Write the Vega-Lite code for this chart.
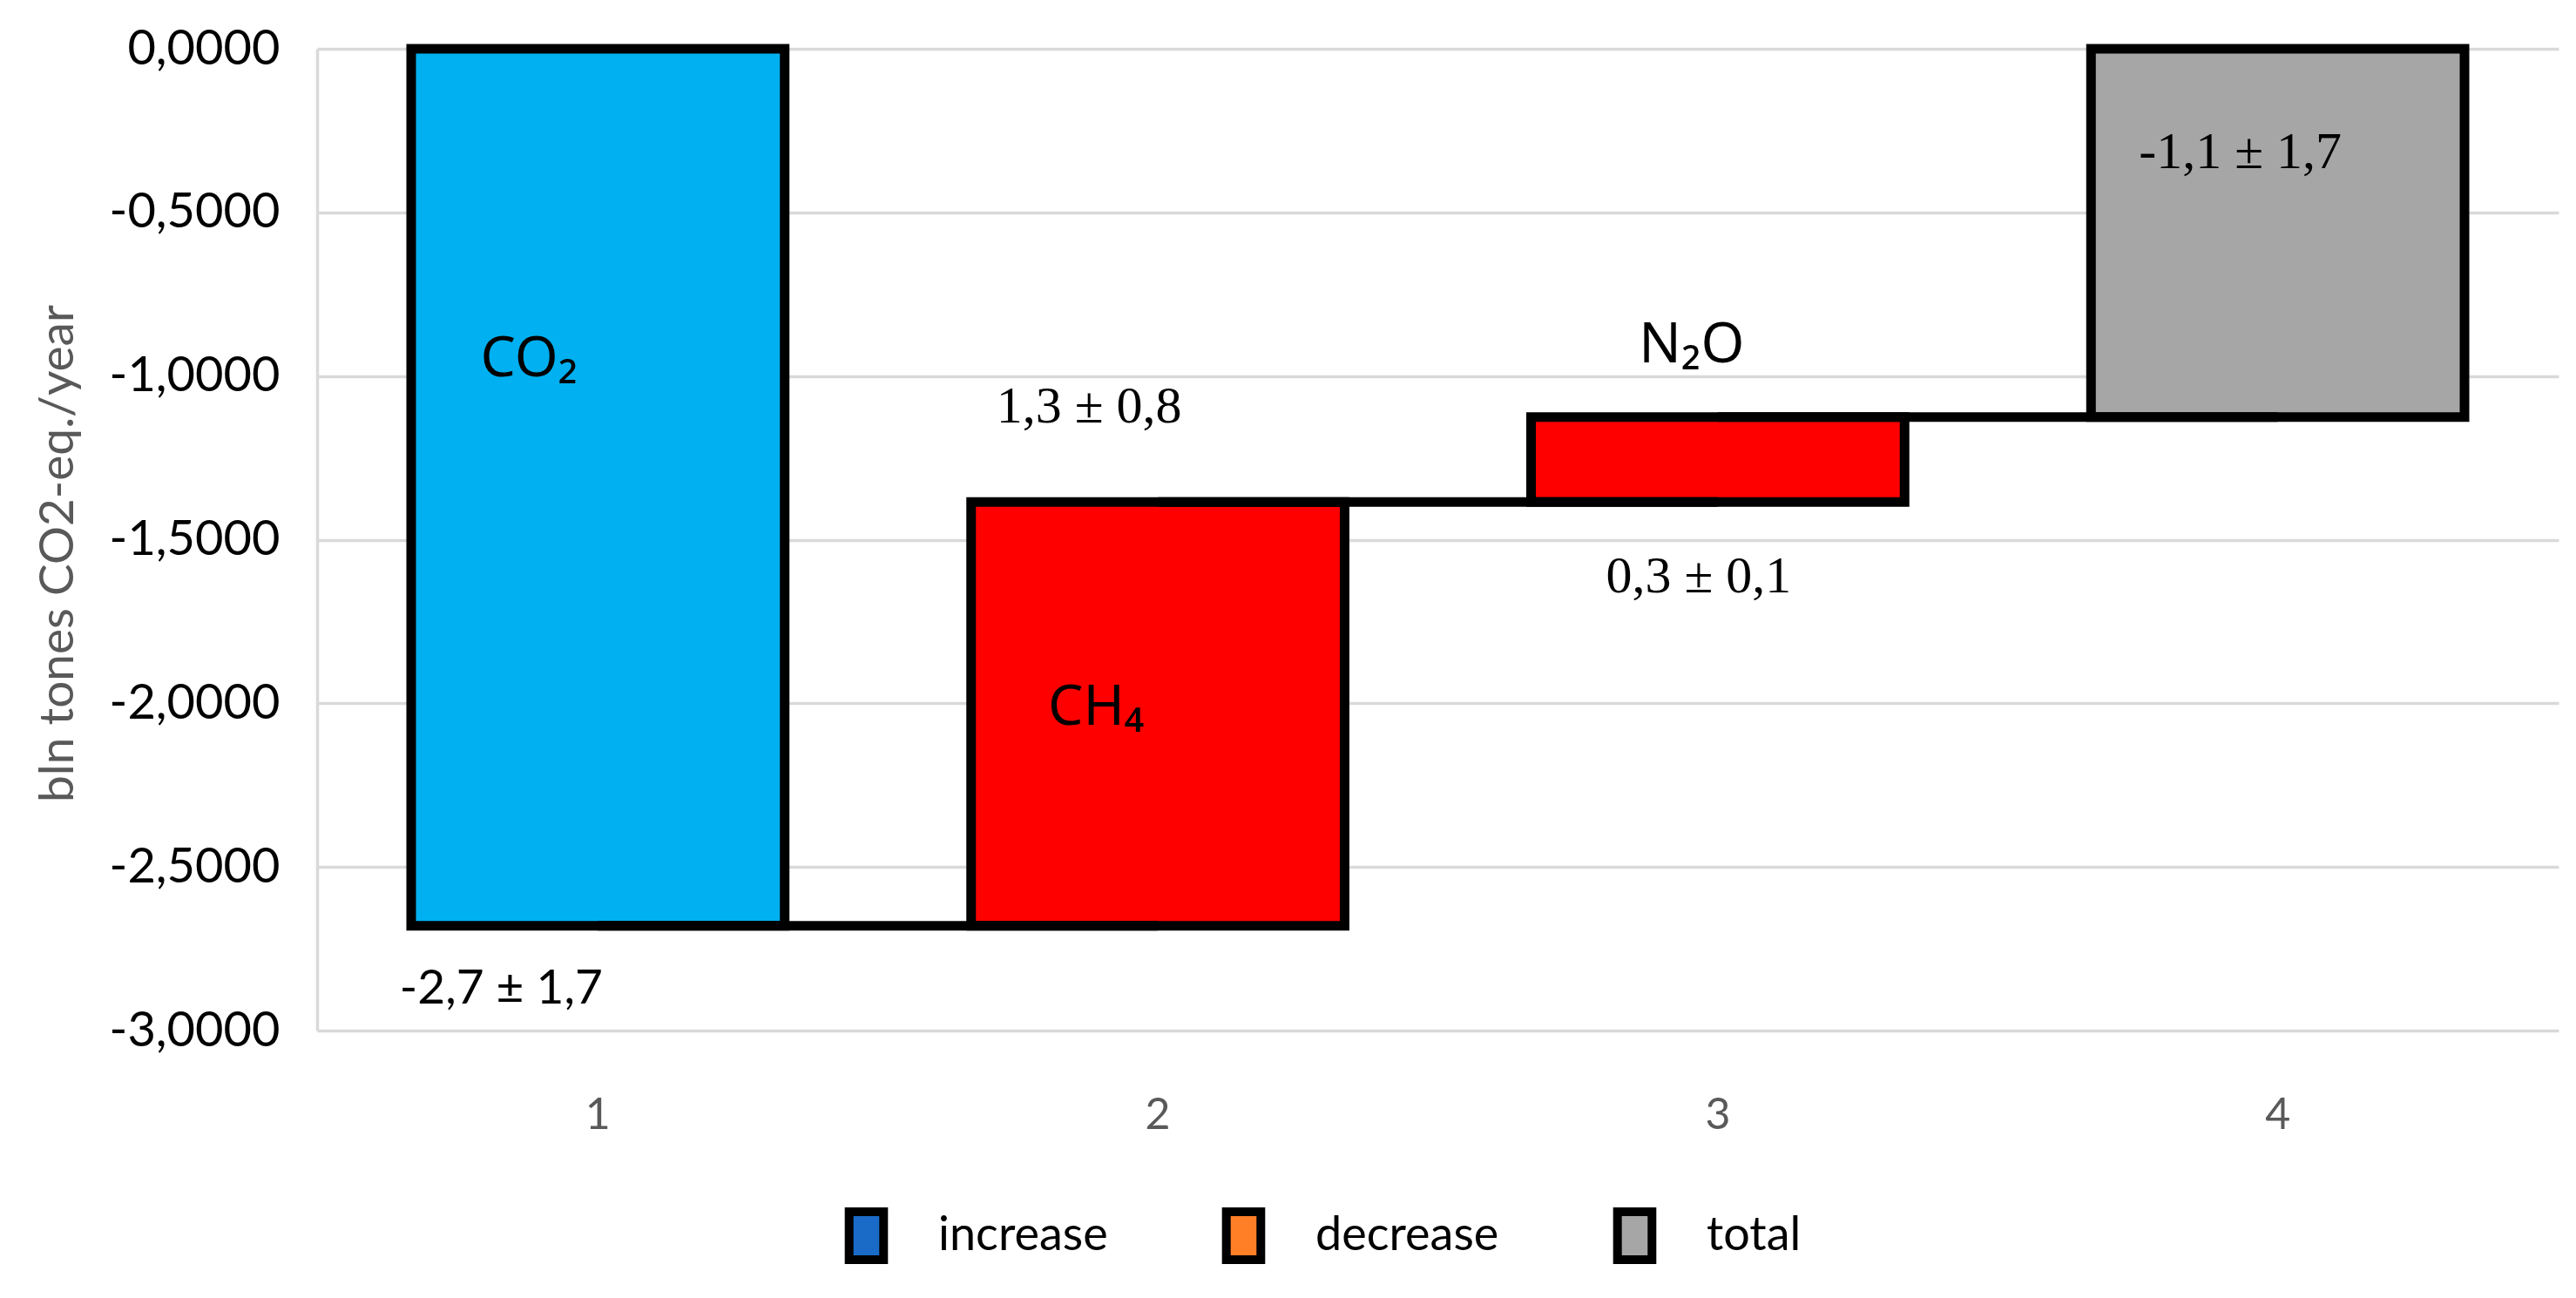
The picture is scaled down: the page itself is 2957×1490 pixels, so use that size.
{
  "$schema": "https://vega.github.io/schema/vega-lite/v6.json",
  "autosize": {"type": "none"},
  "padding": {"left": 364, "top": 56, "right": 20, "bottom": 307},
  "width": 2573,
  "height": 1127,
  "background": "white",
  "datasets": {
    "bars": [
      {"cat": "1", "gas": "CO2", "type": "decrease", "start": 0, "end": -2.68},
      {"cat": "2", "gas": "CH4", "type": "increase", "start": -2.68, "end": -1.385},
      {"cat": "3", "gas": "N2O", "type": "increase", "start": -1.385, "end": -1.125},
      {"cat": "4", "gas": "total", "type": "total", "start": 0, "end": -1.125}
    ],
    "links": [
      {"from": "1", "to": "2", "level": -2.68},
      {"from": "2", "to": "3", "level": -1.385},
      {"from": "3", "to": "4", "level": -1.125}
    ],
    "labels": [
      {"cat": "1", "text": "CO₂", "pos": -0.949},
      {"cat": "1", "text": "-2,7 ± 1,7", "pos": -2.873},
      {"cat": "2", "text": "1,3 ± 0,8", "pos": -1.095},
      {"cat": "2", "text": "CH₄", "pos": -2.014},
      {"cat": "3", "text": "N₂O", "pos": -0.909},
      {"cat": "3", "text": "0,3 ± 0,1", "pos": -1.612},
      {"cat": "4", "text": "-1,1 ± 1,7", "pos": -0.316}
    ]
  },
  "layer": [
    {
      "data": {"name": "bars"},
      "mark": {"type": "bar", "stroke": "black", "strokeWidth": 11},
      "encoding": {
        "x": {
          "field": "cat", "type": "ordinal", "title": null,
          "scale": {"domain": ["1", "2", "3", "4"], "paddingInner": 0.333, "paddingOuter": 0.168},
          "axis": {"labelAngle": 0, "labelFont": "Lato", "labelFontSize": 50, "labelColor": "#595959", "labelPadding": 72, "ticks": false, "domain": false, "grid": false}
        },
        "y": {
          "field": "start", "type": "quantitative", "title": "bln tones CO2-eq./year",
          "scale": {"domain": [-3, 0], "nice": false, "zero": false},
          "axis": {
            "values": [-3, -2.5, -2, -1.5, -1, -0.5, 0],
            "labelExpr": "replace(replace(format(datum.value, '.4f'), '.', ','), '\u2212', '-')",
            "labelFont": "Lato", "labelFontSize": 56, "labelColor": "#000000", "labelPadding": 43, "labelOverlap": false, "labelLimit": 500,
            "ticks": false, "domain": true, "domainColor": "#D9D9D9", "domainWidth": 3.5,
            "grid": true, "gridColor": "#D9D9D9", "gridWidth": 3.5,
            "titleFont": "Lato", "titleFontSize": 55, "titleFontWeight": "normal", "titleColor": "#595959",
            "titleX": -298, "titleY": 579, "titleAngle": -90, "titleBaseline": "middle", "titleAlign": "center", "titleLimit": 1200
          }
        },
        "y2": {"field": "end"},
        "color": {"field": "gas", "type": "nominal", "scale": {"domain": ["CO2", "CH4", "N2O", "total"], "range": ["#00B0F0", "#FF0000", "#FF0000", "#A6A6A6"]}, "legend": null}
      }
    },
    {
      "data": {"name": "links"},
      "mark": {"type": "rule", "color": "black", "strokeWidth": 11},
      "encoding": {
        "x": {"field": "from", "type": "ordinal", "title": null},
        "x2": {"field": "to"},
        "y": {"field": "level", "type": "quantitative", "title": "bln tones CO2-eq./year"}
      }
    },
    {
      "data": {"name": "bars"},
      "mark": {"type": "text", "text": ""},
      "encoding": {
        "x": {"field": "cat", "type": "ordinal", "title": null},
        "y": {"field": "end", "type": "quantitative", "title": "bln tones CO2-eq./year"},
        "fill": {
          "field": "type", "type": "nominal",
          "scale": {"domain": ["increase", "decrease", "total"], "range": ["#1A6BC8", "#FF7F27", "#A6A6A6"]},
          "legend": {
            "title": null, "orient": "none", "legendX": 598, "legendY": 1330, "direction": "horizontal",
            "symbolType": "M-0.72,-1H0.72V1H-0.72Z", "symbolSize": 3025, "symbolStrokeColor": "black", "symbolStrokeWidth": 10, "symbolOpacity": 1,
            "labelFont": "Lato", "labelFontSize": 54, "labelColor": "#000000", "labelOffset": 50, "labelLimit": 600,
            "columnPadding": 115, "padding": 0
          }
        }
      }
    },
    {
      "data": {"name": "labels"},
      "transform": [{"filter": "datum.text == 'CO₂'"}],
      "mark": {"type": "text", "font": "Noto Sans", "fontSize": 64, "dx": -79, "align": "center", "baseline": "middle", "color": "black"},
      "encoding": {
        "x": {"field": "cat", "type": "ordinal", "title": null},
        "y": {"field": "pos", "type": "quantitative", "title": "bln tones CO2-eq./year"},
        "text": {"field": "text"}
      }
    },
    {
      "data": {"name": "labels"},
      "transform": [{"filter": "datum.text == 'CH₄'"}],
      "mark": {"type": "text", "font": "Noto Sans", "fontSize": 64, "dx": -71, "align": "center", "baseline": "middle", "color": "black"},
      "encoding": {
        "x": {"field": "cat", "type": "ordinal", "title": null},
        "y": {"field": "pos", "type": "quantitative", "title": "bln tones CO2-eq./year"},
        "text": {"field": "text"}
      }
    },
    {
      "data": {"name": "labels"},
      "transform": [{"filter": "datum.text == 'N₂O'"}],
      "mark": {"type": "text", "font": "Noto Sans", "fontSize": 64, "dx": -30, "align": "center", "baseline": "middle", "color": "black"},
      "encoding": {
        "x": {"field": "cat", "type": "ordinal", "title": null},
        "y": {"field": "pos", "type": "quantitative", "title": "bln tones CO2-eq./year"},
        "text": {"field": "text"}
      }
    },
    {
      "data": {"name": "labels"},
      "transform": [{"filter": "datum.text == '-2,7 ± 1,7'"}],
      "mark": {"type": "text", "font": "Lato", "fontSize": 55, "dx": -111, "align": "center", "baseline": "middle", "color": "black"},
      "encoding": {
        "x": {"field": "cat", "type": "ordinal", "title": null},
        "y": {"field": "pos", "type": "quantitative", "title": "bln tones CO2-eq./year"},
        "text": {"field": "text"}
      }
    },
    {
      "data": {"name": "labels"},
      "transform": [{"filter": "datum.text == '1,3 ± 0,8'"}],
      "mark": {"type": "text", "font": "Liberation Serif", "fontSize": 60, "dx": -79, "align": "center", "baseline": "middle", "color": "black"},
      "encoding": {
        "x": {"field": "cat", "type": "ordinal", "title": null},
        "y": {"field": "pos", "type": "quantitative", "title": "bln tones CO2-eq./year"},
        "text": {"field": "text"}
      }
    },
    {
      "data": {"name": "labels"},
      "transform": [{"filter": "datum.text == '0,3 ± 0,1'"}],
      "mark": {"type": "text", "font": "Liberation Serif", "fontSize": 60, "dx": -22, "align": "center", "baseline": "middle", "color": "black"},
      "encoding": {
        "x": {"field": "cat", "type": "ordinal", "title": null},
        "y": {"field": "pos", "type": "quantitative", "title": "bln tones CO2-eq./year"},
        "text": {"field": "text"}
      }
    },
    {
      "data": {"name": "labels"},
      "transform": [{"filter": "datum.text == '-1,1 ± 1,7'"}],
      "mark": {"type": "text", "font": "Liberation Serif", "fontSize": 60, "dx": -43, "align": "center", "baseline": "middle", "color": "black"},
      "encoding": {
        "x": {"field": "cat", "type": "ordinal", "title": null},
        "y": {"field": "pos", "type": "quantitative", "title": "bln tones CO2-eq./year"},
        "text": {"field": "text"}
      }
    }
  ],
  "config": {
    "view": {"stroke": null},
    "font": "Lato"
  }
}
